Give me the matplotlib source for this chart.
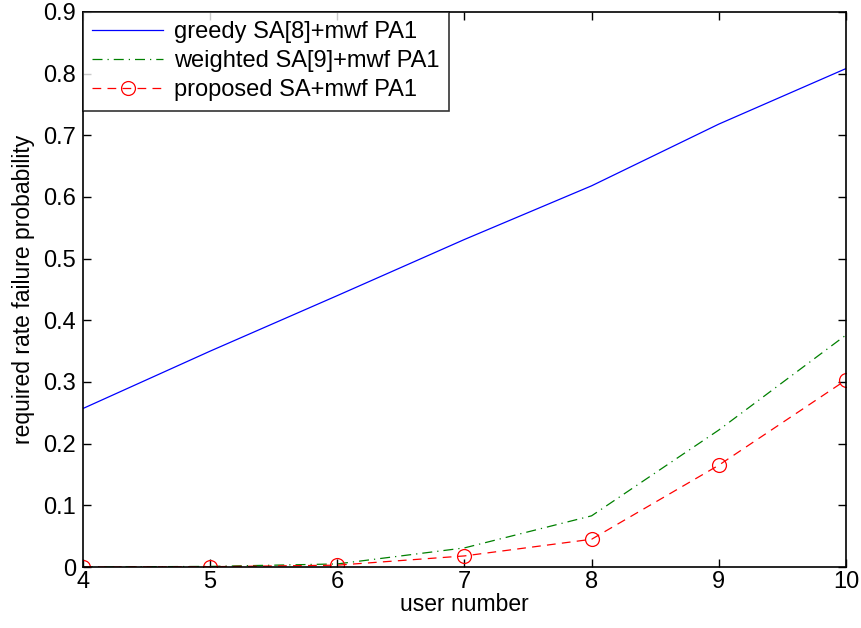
import matplotlib
matplotlib.use('Agg')
import matplotlib.pyplot as plt

# data
users = [4, 5, 6, 7, 8, 9, 10]
greedy = [0.257, 0.350, 0.440, 0.531, 0.618, 0.718, 0.808]
weighted = [0.0, 0.001, 0.005, 0.031, 0.083, 0.222, 0.376]
proposed = [0.0, 0.0005, 0.003, 0.018, 0.045, 0.165, 0.303]

xticks = [4, 5, 6, 7, 8, 9, 10]
yticks = [0, 0.1, 0.2, 0.3, 0.4, 0.5, 0.6, 0.7, 0.8, 0.9]
ytick_labels = ['0', '0.1', '0.2', '0.3', '0.4', '0.5', '0.6', '0.7', '0.8', '0.9']

plt.rcParams['font.family'] = ['Liberation Sans', 'DejaVu Sans']

fig = plt.figure(figsize=(8.62, 6.28), dpi=100)
ax = fig.add_axes([0.0963, 0.0971, 0.885, 0.884])

ax.plot(users, greedy, '-', color='blue', lw=0.9, label='greedy SA[8]+mwf PA1')
ax.plot(users, weighted, '-.', color='green', lw=0.9, dashes=(8, 4, 1, 4),
        label='weighted SA[9]+mwf PA1')
ax.plot(users, proposed, '--', color='red', lw=0.9, marker='o', ms=10,
        mfc='none', mec='red', mew=0.9, dashes=(7, 5),
        label='proposed SA+mwf PA1')

ax.set_xlim(4, 10)
ax.set_ylim(0, 0.9)
ax.set_xticks(xticks)
ax.set_yticks(yticks)
ax.set_yticklabels(ytick_labels)
ax.tick_params(direction='in', labelsize=17, length=6, width=1, top=True, right=True)
ax.tick_params(axis='x', pad=3)
ax.tick_params(axis='y', pad=5)
for s in ax.spines.values():
    s.set_linewidth(1.2)

ax.set_xlabel('user number', fontsize=16.5, labelpad=0)
ax.set_ylabel('required rate failure probability', fontsize=16.5, labelpad=6)

leg = ax.legend(loc='upper left', fontsize=17, frameon=True, fancybox=False,
                edgecolor='black', borderaxespad=0, handlelength=3.0,
                borderpad=0.4, labelspacing=0.3, handletextpad=0.45)
leg.get_frame().set_linewidth(1.2)

fig.savefig('out.png', dpi=100)
